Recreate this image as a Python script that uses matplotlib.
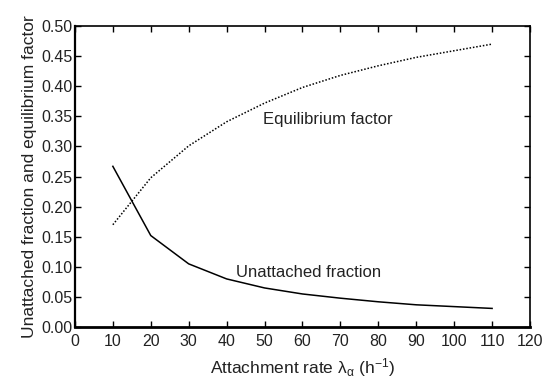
import matplotlib.pyplot as plt
import numpy as np

plt.rcParams['font.family'] = ['Liberation Sans', 'DejaVu Sans']
plt.rcParams['mathtext.fontset'] = 'custom'
plt.rcParams['mathtext.rm'] = 'Liberation Sans'
plt.rcParams['mathtext.it'] = 'Liberation Sans'
plt.rcParams['text.color'] = '#222222'
plt.rcParams['axes.labelcolor'] = '#222222'
plt.rcParams['xtick.labelcolor'] = '#222222'
plt.rcParams['ytick.labelcolor'] = '#222222'

# attachment rate (h^-1)
rate = [10, 20, 30, 40, 50, 60, 70, 80, 90, 100, 110]
unattached = [0.267, 0.152, 0.105, 0.080, 0.065, 0.055, 0.048, 0.042, 0.037, 0.034, 0.031]
equilibrium = [0.170, 0.248, 0.301, 0.341, 0.372, 0.398, 0.418, 0.434, 0.448, 0.459, 0.470]

fig = plt.figure(figsize=(5.55, 3.83), dpi=100)
ax = fig.add_axes([0.135, 0.146, 0.820, 0.786])

ax.plot(rate, unattached, color='black', lw=1.1)
ax.plot(rate, equilibrium, color='black', lw=1.1, linestyle=(0, (1, 1.2)))

ax.text(49.6, 0.344, 'Equilibrium factor', fontsize=12, va='center')
ax.text(42.5, 0.090, 'Unattached fraction', fontsize=12, va='center')

ax.set_xlim(0, 120)
ax.set_ylim(0, 0.5)
ax.set_xticks(np.arange(0, 121, 10))
ax.set_yticks(np.arange(0, 0.51, 0.05))
ax.set_yticklabels(['%.2f' % v for v in np.arange(0, 0.51, 0.05)])
ax.tick_params(direction='in', top=True, right=True, labeltop=False, labelright=False,
               length=4, width=1, labelsize=11.5, pad=2)
ax.tick_params(axis='x', pad=5)

for s in ax.spines.values():
    s.set_linewidth(1.2)
ax.spines['bottom'].set_linewidth(2)
ax.spines['left'].set_linewidth(1.6)

ax.set_xlabel(r'Attachment rate $\lambda_\alpha$ (h$^{-1}$)', fontsize=12.5, labelpad=5)
ax.set_ylabel('Unattached fraction and equilibrium factor', fontsize=12.5, labelpad=3)

fig.savefig('out.png', dpi=100)
